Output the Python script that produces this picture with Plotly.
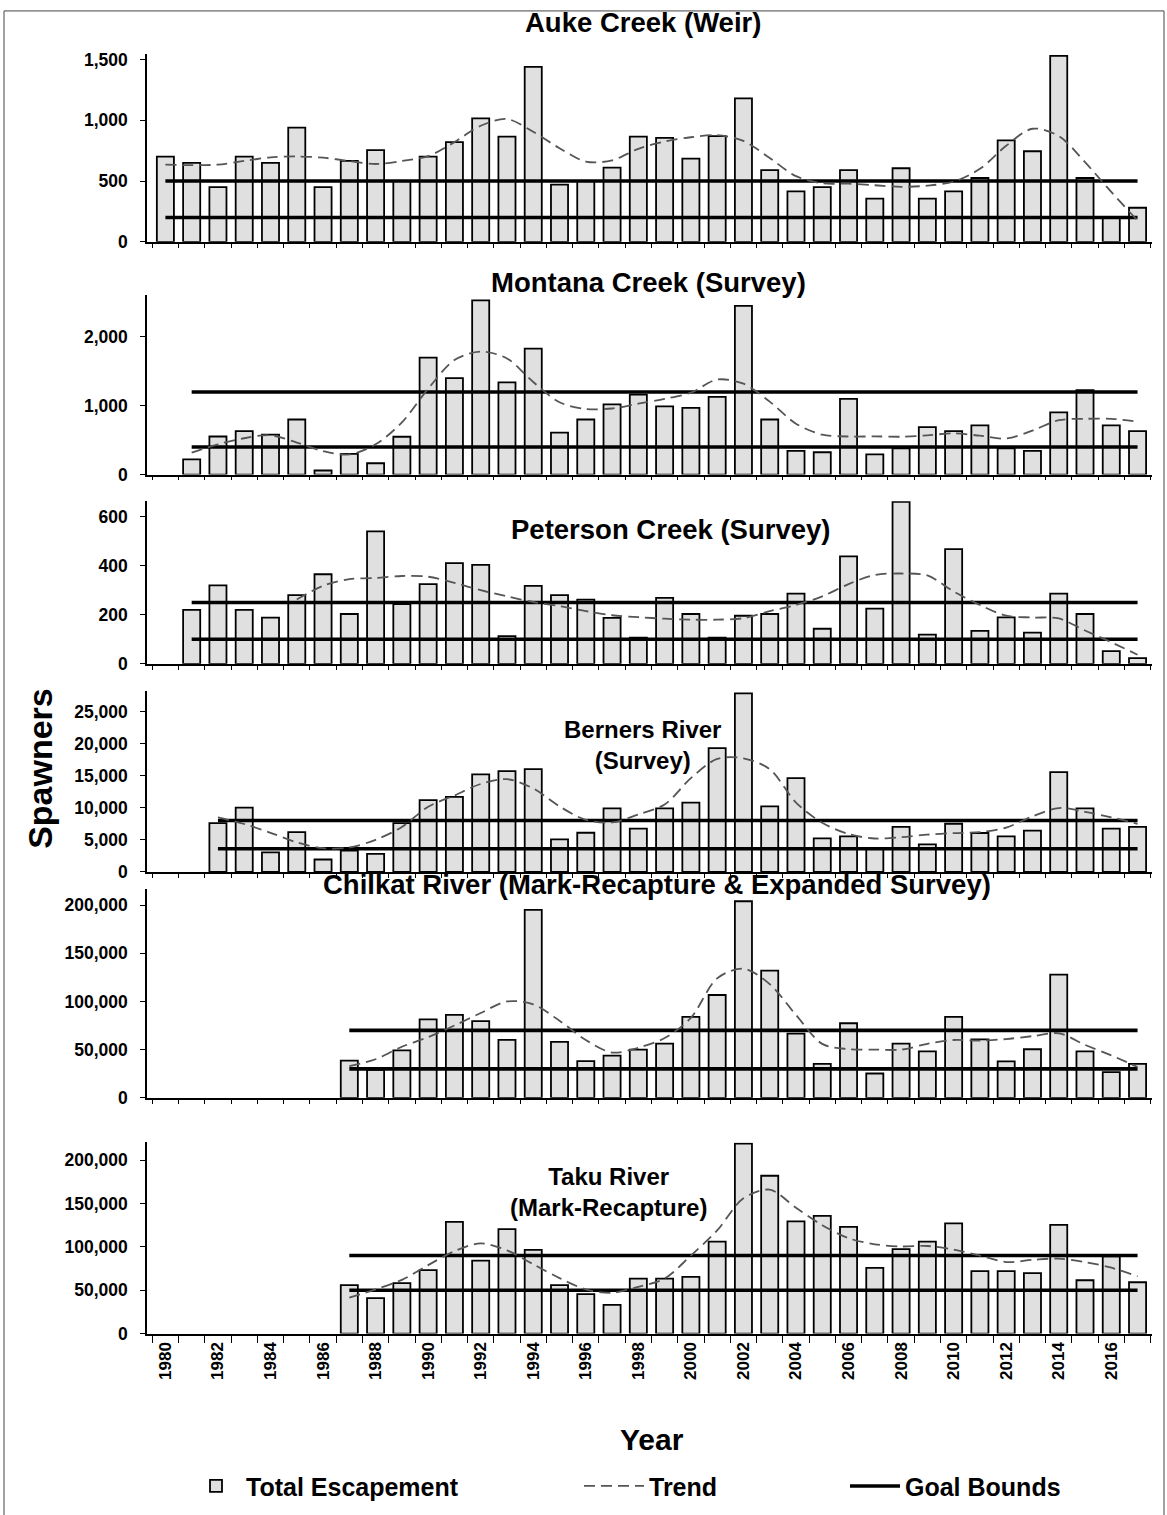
import plotly.graph_objects as go

W, H = 1167, 1515
FONT = "Liberation Sans, Arial, sans-serif"

years = list(range(1980, 2018))
N = None

# ---------------- data ----------------
auke = [700, 650, 450, 700, 650, 940, 450, 665, 755, 500,
        700, 820, 1015, 865, 1440, 470, 500, 610, 865, 855,
        685, 870, 1180, 590, 415, 450, 590, 355, 605, 355,
        415, 525, 835, 745, 1530, 525, 200, 280]
auke_trend = [635, 630, 635, 665, 695, 702, 692, 665, 640, 665,
              705, 820, 955, 1010, 905, 770, 660, 670, 765, 825,
              860, 878, 830, 690, 540, 482, 478, 465, 452, 462,
              495, 600, 790, 930, 870, 655, 410, 175]

montana = [N, 220, 553, 631, 580, 800, 60, 300, 165, 550,
           1700, 1400, 2530, 1340, 1830, 610, 800, 1020, 1160, 990,
           970, 1130, 2450, 800, 345, 325, 1100, 295, 380, 690,
           630, 715, 380, 345, 905, 1225, 715, 630]
montana_trend = [N, 318, 440, 528, 572, 465, 342, 293, 440, 758,
                 1247, 1663, 1785, 1687, 1345, 1051, 953, 960, 1030, 1100,
                 1190, 1380, 1320, 1060, 740, 580, 553, 555, 550, 570,
                 600, 565, 524, 640, 790, 810, 810, 770]

peterson = [N, 220, 320, 220, 188, 280, 365, 203, 540, 243,
            325, 410, 403, 113, 318, 280, 262, 187, 107, 269,
            203, 107, 196, 203, 286, 143, 438, 225, 660, 119,
            467, 134, 189, 127, 286, 203, 52, 23]
peterson_trend = [N, N, N, N, N, 262, 318, 345, 350, 358,
                  355, 330, 300, 275, 252, 235, 215, 198, 190, 184,
                  180, 180, 186, 215, 240, 275, 325, 362, 368, 360,
                  295, 240, 196, 189, 185, 136, 88, 37]

berners = [N, N, 7600, 10000, 3050, 6200, 1930, 3300, 2800, 7600,
           11170, 11680, 15200, 15700, 16000, 5080, 6100, 9900, 6740, 9900,
           10780, 19270, 27800, 10200, 14600, 5230, 5540, 3730, 7000, 4300,
           7500, 6060, 5540, 6420, 15540, 9900, 6740, 7000]
berners_trend = [N, N, 8480, 7460, 6090, 4600, 3700, 3800, 5000, 7000,
                 10150, 11900, 13700, 14450, 13000, 10200, 8100, 7700, 8950, 10500,
                 14600, 17600, 17700, 16000, 10800, 7650, 5900, 5200, 5400, 5800,
                 6050, 6200, 6900, 8650, 9950, 9350, 8500, 7500]

chilkat = [N, N, N, N, N, N, N, 38600, 29000, 49200,
           81400, 86000, 79500, 60200, 195000, 58000, 38000, 43700, 50000, 56300,
           84000, 106700, 204000, 132000, 66700, 35200, 77400, 25200, 56300, 48100,
           84000, 60700, 37800, 50400, 127800, 48100, 26700, 35200]
chilkat_trend = [N, N, N, N, N, N, N, 33000, 40000, 53000,
                 63000, 75000, 88000, 100000, 97000, 80000, 60000, 47000, 52000, 62000,
                 83000, 124000, 134000, 118000, 86000, 56000, 50500, 50000, 50000, 56000,
                 60000, 59300, 61000, 64000, 67000, 55000, 44000, 32000]

taku = [N, N, N, N, N, N, N, 56000, 40900, 58300,
        73100, 128800, 84100, 120500, 96600, 56000, 45500, 33200, 63400, 63400,
        65300, 106000, 219000, 182000, 129400, 135800, 123000, 75800, 97400, 106000,
        127200, 72000, 72000, 69800, 125300, 61500, 89100, 59200]
taku_trend = [N, N, N, N, N, N, N, 41500, 51000, 62000,
              79000, 95000, 104000, 96000, 80000, 64000, 51000, 47000, 54000, 63500,
              90000, 119000, 156000, 166000, 145000, 125000, 110000, 103000, 100500, 101000,
              97000, 90000, 82500, 85000, 86500, 82500, 76000, 66000]

titles = ["Auke Creek (Weir)", "Montana Creek (Survey)", "Peterson Creek (Survey)",
          "Berners River<br>(Survey)",
          "Chilkat River (Mark-Recapture & Expanded Survey)",
          "Taku River<br>(Mark-Recapture)"]
series = [auke, montana, peterson, berners, chilkat, taku]
trends = [auke_trend, montana_trend, peterson_trend, berners_trend, chilkat_trend, taku_trend]
goal_low = [200, 400, 100, 3600, 30000, 50000]
goal_high = [500, 1200, 250, 8000, 70000, 90000]
goal_start = [1980, 1981, 1981, 1982, 1987, 1987]
goal_end = 2017
y_max = [1549, 2604, 662, 28240, 217000, 220500]
y_dtick = [500, 1000, 200, 5000, 50000, 50000]
x_ticks = list(range(1980, 2017, 2))

# ---------------- layout geometry (pixels) ----------------
px_left, px_right = 147, 1152
panel_px = [(50, 240), (294, 475), (502, 666), (693, 876), (893, 1104), (1149, 1342)]
# (centre x, centre y, font size) of each title block
title_px = [(643, 19, 27.5), (648, 281, 27.5), (670, 530, 27.5),
            (642, 748, 24), (657, 889, 27.5), (608, 1199, 24)]


def fx(px):
    return px / W


def fy(px):
    return 1 - px / H


fig = go.Figure()
layout = dict(
    width=W, height=H,
    margin=dict(l=0, r=0, t=0, b=0),
    paper_bgcolor="white", plot_bgcolor="white",
    font=dict(family=FONT, color="black"),
    bargap=0.36,
    annotations=[], shapes=[],
)

for i in range(6):
    k = "" if i == 0 else str(i + 1)
    xa, ya = "x" + k, "y" + k
    first = i == 0
    fig.add_trace(go.Bar(
        x=years, y=series[i], xaxis=xa, yaxis=ya, width=0.65,
        marker=dict(color="#e0e0e0", line=dict(color="black", width=1.8)),
        name="Total Escapement", legend="legend", showlegend=first,
    ))
    for g in (goal_high[i], goal_low[i]):
        fig.add_trace(go.Scatter(
            x=[goal_start[i], goal_end], y=[g, g], xaxis=xa, yaxis=ya,
            mode="lines", line=dict(color="black", width=3.6),
            name="Goal Bounds", legend="legend3",
            showlegend=first and g == goal_high[i],
        ))
    fig.add_trace(go.Scatter(
        x=years, y=trends[i], xaxis=xa, yaxis=ya, mode="lines",
        line=dict(color="#555555", width=1.8, dash="11px,6px", shape="spline", smoothing=0.9),
        name="Trend", legend="legend2", showlegend=first,
    ))

    top, bot = panel_px[i]
    bottom = i == 5
    layout["xaxis" + k] = dict(
        domain=[fx(px_left), fx(px_right)], anchor=ya,
        range=[1979.3, 2017.55], showgrid=False, zeroline=False,
        showline=True, linecolor="black", linewidth=1.5,
        tickmode="array", tickvals=x_ticks, ticktext=[str(v) for v in x_ticks],
        showticklabels=bottom, ticks="", tickangle=-90,
        tickfont=dict(family=FONT, size=17, weight="bold"),
        minor=dict(ticks="outside", tick0=1979.5, dtick=1,
                   ticklen=8 if bottom else 4, tickcolor="black", tickwidth=1.2),
    )
    layout["yaxis" + k] = dict(
        domain=[fy(bot), fy(top)], anchor=xa,
        range=[0, y_max[i]], dtick=y_dtick[i], tick0=0,
        showgrid=False, zeroline=False,
        showline=True, linecolor="black", linewidth=1.5,
        ticks="outside", ticklen=5, tickcolor="black", tickwidth=1.2,
        ticklabelstandoff=9,
        tickformat=",d", separatethousands=True,
        tickfont=dict(family=FONT, size=17.5, weight="bold"),
    )
    cx, cy, fs = title_px[i]
    layout["annotations"].append(dict(
        text=titles[i], x=fx(cx), y=fy(cy), xref="paper", yref="paper",
        xanchor="center", yanchor="middle", align="center", showarrow=False,
        font=dict(family=FONT, size=fs, weight="bold"),
    ))

layout["annotations"].append(dict(
    text="Spawners", x=fx(40), y=fy(772), xref="paper", yref="paper",
    textangle=-90, showarrow=False, xanchor="center", yanchor="middle",
    font=dict(family=FONT, size=34, weight="bold"),
))
layout["annotations"].append(dict(
    text="Year", x=fx(652), y=fy(1449), xref="paper", yref="paper",
    showarrow=False, xanchor="center", yanchor="middle",
    font=dict(family=FONT, size=30, weight="bold"),
))

leg_font = dict(family=FONT, size=25, weight="bold")
ly = fy(1496)
layout["legend"] = dict(x=fx(186), y=ly, xanchor="left", yanchor="middle",
                        font=leg_font, bgcolor="rgba(0,0,0,0)", itemwidth=50)
layout["legend2"] = dict(x=fx(579), y=ly, xanchor="left", yanchor="middle",
                         font=leg_font, bgcolor="rgba(0,0,0,0)", itemwidth=60)
layout["legend3"] = dict(x=fx(845), y=ly, xanchor="left", yanchor="middle",
                         font=leg_font, bgcolor="rgba(0,0,0,0)", itemwidth=50)

layout["shapes"].append(dict(
    type="rect", xref="paper", yref="paper",
    x0=fx(4), x1=fx(1164), y0=fy(1540), y1=fy(7),
    line=dict(color="#444444", width=1), fillcolor="rgba(0,0,0,0)",
))

fig.update_layout(**layout)
fig.write_html("out.html")
